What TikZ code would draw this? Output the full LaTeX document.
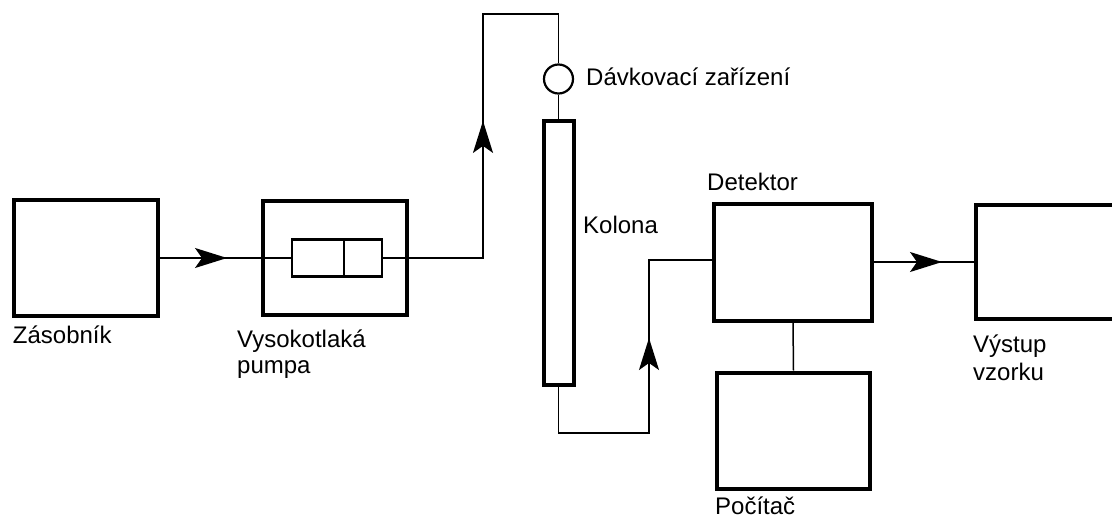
\documentclass[tikz,border=0pt]{standalone}
\usepackage{fontspec}
\setmainfont{Liberation Sans}
\usetikzlibrary{arrows.meta,decorations.markings}
\tikzset{
  box/.style={draw, line width=4pt, inner sep=0pt, rectangle},
  pipe/.style={line width=1.5pt},
  lbl/.style={inner sep=0pt, anchor=base west, font=\fontsize{24}{27}\selectfont},
  flowarrow/.style={postaction={decorate}, decoration={markings,
      mark=at position #1 with {\arrow{Stealth[length=32pt,width=20pt,inset=7pt]}}}},
}
\begin{document}
\begin{tikzpicture}[x=1pt,y=-1pt]
\clip (0,0) rectangle (1112,519);
\fill[white] (0,0) rectangle (1112,519);

% boxes
\node[box, minimum width=144pt, minimum height=116pt] (zas) at (85.5,258) {};
\node[box, minimum width=144pt, minimum height=114pt] (pump) at (335,258) {};
\node[draw, line width=2.2pt, inner sep=0pt, minimum width=90pt, minimum height=37pt] (pumpin) at (337,258) {};
\draw[line width=2.2pt] ([xshift=7pt]pumpin.north) -- ([xshift=7pt]pumpin.south);
\node[draw, circle, line width=2.2pt, minimum size=29pt, inner sep=0pt] (inj) at (558.5,79) {};
\node[box, minimum width=30pt, minimum height=264pt] (col) at (558.5,253) {};
\node[box, minimum width=158pt, minimum height=117pt] (det) at (793,262) {};
\node[box, minimum width=153pt, minimum height=116pt] (pc) at (793.5,430.5) {};
\node[box, minimum width=149pt, minimum height=114.5pt] (out) at (1050.5,262) {};

% connectors
\coordinate (c1) at (483,14);
\coordinate (c2) at (649,433);
\draw[pipe, flowarrow=67.5pt] (zas.east) -- (pumpin.west);
\draw[pipe, flowarrow=237pt] (pumpin.east) -| (c1) -| (inj.north);
\draw[pipe] (inj.south) -- (col.north);
\draw[pipe, flowarrow=231.5pt] (col.south) |- (c2) |- ([yshift=2pt]det.west);
\draw[pipe, flowarrow=68pt] (det.east) -- (out.west);
\draw[pipe] (det.south) -- (pc.north);

% labels
\node[lbl] (lzas) at (12.7,343) {Zásobník};
\node[lbl] (lpump1) at (237,347) {Vysokotlaká};
\node[lbl] (lpump2) at (237,373) {pumpa};
\node[lbl] (linj) at (586,85) {Dávkovací zařízení};
\node[lbl] (lcol) at (583,233) {Kolona};
\node[lbl] (ldet) at (707,190) {Detektor};
\node[lbl] (lpc) at (715,514) {Počítač};
\node[lbl] (lout1) at (973,352) {Výstup};
\node[lbl] (lout2) at (973,380) {vzorku};
\end{tikzpicture}
\end{document}
